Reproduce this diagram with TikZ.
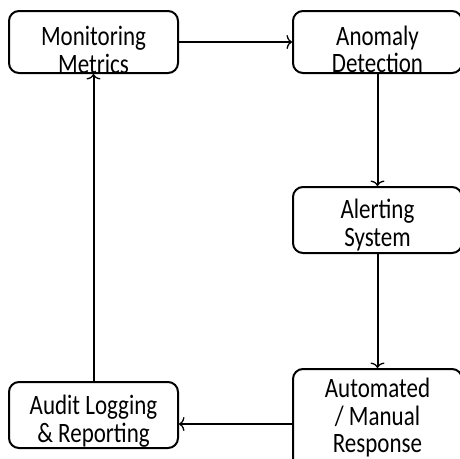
\documentclass[tikz,border=0pt]{standalone}
\usepackage{fontspec}
\setmainfont{Carlito}
\usetikzlibrary{arrows.meta}
\begin{document}
\begin{tikzpicture}[x=1pt, y=-1pt,
    box/.style={draw, line width=2pt, rounded corners=10pt, minimum width=169pt, minimum height=#1, inner sep=0pt},
    txt/.style={align=center, inner sep=0pt, yscale=1.22, transform shape, font=\fontsize{23}{22.5}\selectfont},
    flow/.style={-{To[length=5.5pt, width=14pt, line width=1.3pt]}, line width=2pt}]
    \useasboundingbox (0,0) rectangle (460,458);
    \node[box=62pt, label={[txt, yshift=-6.5pt]center:Monitoring\\Metrics}] (metrics) at (93.5,42) {};
    \node[box=62pt, label={[txt, yshift=-6pt]center:Anomaly\\Detection}] (anomaly) at (377.5,42) {};
    \node[box=66pt, label={[txt, yshift=-4pt]center:Alerting\\System}] (alerting) at (377.5,220) {};
    \node[box=110pt, label={[txt, yshift=5pt]center:Automated\\/ Manual\\Response}] (response) at (377.5,424) {};
    \node[box=66pt, label={[txt, yshift=-5pt]center:Audit Logging\\\& Reporting}] (audit) at (93.5,415) {};
    \draw[flow] (metrics) -- (anomaly);
    \draw[flow] (anomaly) -- (alerting);
    \draw[flow] (alerting) -- (response);
    \draw[flow] (response) -- (response -| audit.east);
    \draw[flow] (audit) -- (metrics);
\end{tikzpicture}
\end{document}
